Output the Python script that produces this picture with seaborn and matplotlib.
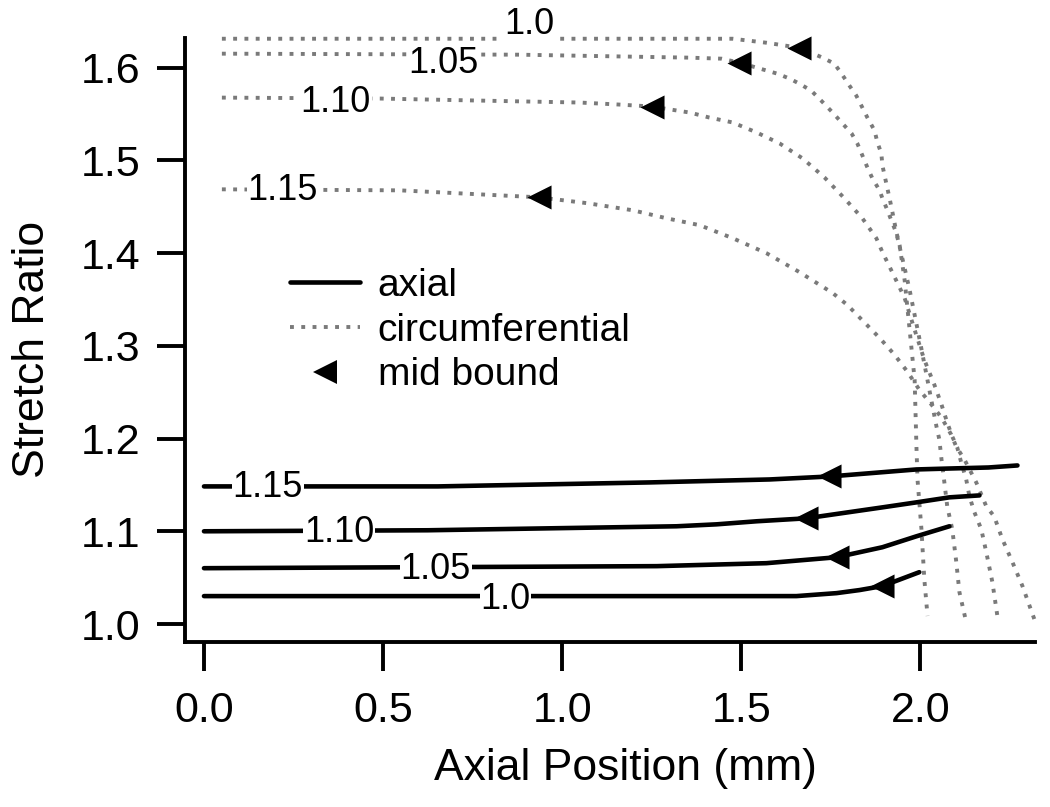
import numpy as np
import pandas as pd
import matplotlib
matplotlib.use("Agg")
import matplotlib.pyplot as plt
from matplotlib.lines import Line2D
import seaborn as sns

# ---------------- data ----------------
pre_stretch = ["1.0", "1.05", "1.10", "1.15"]

# axial stretch curves (x in mm, y stretch ratio)
ax_x_10 = [0.0, 1.654, 1.766, 1.830, 1.894, 1.997]
ax_y_10 = [1.0301, 1.0301, 1.0333, 1.0366, 1.0409, 1.0559]
ax_x_105 = [0.0, 1.264, 1.570, 1.766, 1.894, 1.989, 2.081]
ax_y_105 = [1.0602, 1.0624, 1.0656, 1.0720, 1.0828, 1.0946, 1.1054]
ax_x_110 = [0.0, 0.625, 1.319, 1.431, 1.543, 1.682, 1.894, 1.989, 2.081, 2.165]
ax_y_110 = [1.1000, 1.1011, 1.1054, 1.1075, 1.1108, 1.1140, 1.1258, 1.1312, 1.1366, 1.1387]
ax_x_115 = [0.0, 0.653, 1.244, 1.579, 1.746, 1.989, 2.081, 2.190, 2.271]
ax_y_115 = [1.1484, 1.1484, 1.1527, 1.1559, 1.1591, 1.1667, 1.1677, 1.1688, 1.1710]

# circumferential stretch curves
ci_x_10 = [0.050, 0.881, 1.356, 1.476, 1.570, 1.662, 1.727, 1.760, 1.780, 1.802, 1.821,
           1.838, 1.852, 1.872, 1.880, 1.891, 1.894, 1.906, 1.914, 1.922, 1.933, 1.942,
           1.956, 1.970, 1.984, 1.989, 1.992, 2.003, 2.011, 2.020]
ci_y_10 = [1.6312, 1.6312, 1.6312, 1.6312, 1.6269, 1.6215, 1.6108, 1.6043, 1.5935, 1.5806,
           1.5699, 1.5570, 1.5462, 1.5323, 1.5194, 1.5075, 1.4946, 1.4731, 1.4591, 1.4441,
           1.4226, 1.4086, 1.3710, 1.3172, 1.2634, 1.1914, 1.1559, 1.1022, 1.0484, 1.0086]
ci_x_105 = [0.050, 0.881, 1.356, 1.445, 1.495, 1.543, 1.601, 1.635, 1.662, 1.695, 1.723,
            1.755, 1.780, 1.808, 1.824, 1.838, 1.852, 1.866, 1.886, 1.894, 1.908, 1.933,
            1.956, 1.970, 1.998, 2.017, 2.033, 2.045, 2.053, 2.059, 2.067, 2.075, 2.089,
            2.100, 2.109, 2.126]
ci_y_105 = [1.6151, 1.6140, 1.6108, 1.6097, 1.6054, 1.6000, 1.5935, 1.5882, 1.5828, 1.5753,
            1.5645, 1.5516, 1.5409, 1.5290, 1.5183, 1.5054, 1.4925, 1.4806, 1.4677, 1.4591,
            1.4462, 1.4215, 1.3839, 1.3602, 1.3065, 1.2688, 1.2366, 1.2129, 1.1989, 1.1774,
            1.1527, 1.1269, 1.1022, 1.0677, 1.0344, 1.0054]
ci_x_110 = [0.050, 0.491, 0.770, 1.049, 1.160, 1.250, 1.356, 1.411, 1.476, 1.543, 1.607,
            1.671, 1.732, 1.788, 1.838, 1.877, 1.894, 1.928, 1.956, 1.984, 2.011, 2.039,
            2.059, 2.075, 2.089, 2.103, 2.114, 2.128, 2.137, 2.151, 2.170, 2.184, 2.201, 2.215]
ci_y_110 = [1.5677, 1.5667, 1.5645, 1.5624, 1.5602, 1.5581, 1.5516, 1.5462, 1.5409, 1.5301,
            1.5183, 1.5022, 1.4817, 1.4591, 1.4376, 1.4161, 1.4011, 1.3742, 1.3516, 1.3172,
            1.2849, 1.2581, 1.2366, 1.2172, 1.2022, 1.1903, 1.1742, 1.1559, 1.1376, 1.1204,
            1.1022, 1.0774, 1.0452, 1.0086]
ci_x_115 = [0.050, 0.547, 0.934, 1.071, 1.197, 1.291, 1.384, 1.476, 1.570, 1.662, 1.755,
            1.796, 1.886, 1.928, 1.964, 1.997, 2.031, 2.059, 2.086, 2.100, 2.123, 2.156,
            2.184, 2.206, 2.229, 2.257, 2.285, 2.318]
ci_y_115 = [1.4688, 1.4677, 1.4602, 1.4538, 1.4462, 1.4376, 1.4301, 1.4161, 1.4000, 1.3796,
            1.3570, 1.3441, 1.3086, 1.2903, 1.2720, 1.2527, 1.2366, 1.2226, 1.2043, 1.1914,
            1.1774, 1.1527, 1.1269, 1.1161, 1.0914, 1.0667, 1.0409, 1.0054]

# mid-bound markers
mid_ax_x = [1.894, 1.766, 1.682, 1.746]
mid_ax_y = [1.0409, 1.0720, 1.1140, 1.1591]
mid_ci_x = [1.662, 1.495, 1.250, 0.934]
mid_ci_y = [1.6215, 1.6054, 1.5581, 1.4602]

# inline labels
lab_ax_x = [0.842, 0.647, 0.377, 0.178]
lab_ax_y = [1.0269, 1.0591, 1.0989, 1.1473]
lab_ci_x = [0.907, 0.669, 0.368, 0.220]
lab_ci_y = [1.6462, 1.6043, 1.5624, 1.4677]

xticks = [0.0, 0.5, 1.0, 1.5, 2.0]
yticks = [1.0, 1.1, 1.2, 1.3, 1.4, 1.5, 1.6]

# ---------------- style ----------------
sns.set_theme(style="white")
plt.rcParams["font.family"] = ["Liberation Sans", "DejaVu Sans"]
plt.rcParams["text.color"] = "black"
plt.rcParams["axes.labelcolor"] = "black"

fig = plt.figure(figsize=(10.5, 8.07), dpi=100)
ax = fig.add_axes([185 / 1050, 1 - 642 / 807, (1035 - 185) / 1050, (642 - 38) / 807])

GRAY = "#7a7a7a"
DOT = (0, (1, 1.9))
axial_sets = [(ax_x_10, ax_y_10), (ax_x_105, ax_y_105), (ax_x_110, ax_y_110), (ax_x_115, ax_y_115)]
circ_sets = [(ci_x_10, ci_y_10), (ci_x_105, ci_y_105), (ci_x_110, ci_y_110), (ci_x_115, ci_y_115)]

for (xs, ys) in circ_sets:
    df = pd.DataFrame({"x": xs, "y": ys})
    sns.lineplot(data=df, x="x", y="y", ax=ax, sort=False, estimator=None,
                 color=GRAY, lw=2.8, linestyle=DOT, clip_on=False, zorder=2)

for (xs, ys) in axial_sets:
    df = pd.DataFrame({"x": xs, "y": ys})
    sns.lineplot(data=df, x="x", y="y", ax=ax, sort=False, estimator=None,
                 color="black", lw=3.3, clip_on=False, zorder=3)

mk = pd.DataFrame({"x": mid_ax_x + mid_ci_x, "y": mid_ax_y + mid_ci_y})
sns.scatterplot(data=mk, x="x", y="y", ax=ax, marker="<", s=300, color="black",
                linewidth=0, zorder=5, clip_on=False)

box = dict(facecolor="white", edgecolor="none", pad=0.5)
for t, x, y in zip(pre_stretch, lab_ax_x, lab_ax_y):
    ax.text(x, y, t, fontsize=26, color="black", ha="center", va="center",
            bbox=box, zorder=4, clip_on=False)
for t, x, y in zip(pre_stretch, lab_ci_x, lab_ci_y):
    ax.text(x, y, t, fontsize=26, color="black", ha="center", va="center",
            bbox=box, zorder=4, clip_on=False)

ax.set_xlim(-0.053, 2.32)
ax.set_ylim(0.9806, 1.632)
ax.set_xticks(xticks)
ax.set_xticklabels([f"{v:.1f}" for v in xticks])
ax.set_yticks(yticks)
ax.set_yticklabels([f"{v:.1f}" for v in yticks])

for s in ["top", "right"]:
    ax.spines[s].set_visible(False)
for s in ["left", "bottom"]:
    ax.spines[s].set_linewidth(2.8)
    ax.spines[s].set_color("black")

ax.tick_params(axis="y", direction="out", length=20, width=2.8, pad=12,
               labelsize=31, left=True, colors="black")
ax.tick_params(axis="x", direction="out", length=21, width=2.8, pad=14,
               labelsize=31, bottom=True, colors="black")

ax.set_xlabel("Axial Position (mm)", fontsize=32, color="black")
ax.set_ylabel("Stretch Ratio", fontsize=32, color="black")
ax.xaxis.set_label_coords(0.518, -0.175)
ax.yaxis.set_label_coords(-0.155, 0.485)

handles = [
    Line2D([], [], color="black", lw=3.3),
    Line2D([], [], color=GRAY, lw=2.8, linestyle=DOT),
    Line2D([], [], color="black", marker="<", linestyle="none", markersize=17, markeredgewidth=0),
]
leg = fig.legend(handles, ["axial", "circumferential", "mid bound"], loc="upper left",
                 bbox_to_anchor=(290 / 1050, 1 - 268 / 807), frameon=False, fontsize=28,
                 handlelength=1.8, handletextpad=0.45, labelspacing=0.22, borderpad=0,
                 borderaxespad=0)
for t in leg.get_texts():
    t.set_color("black")

fig.savefig("out.png", dpi=100)
